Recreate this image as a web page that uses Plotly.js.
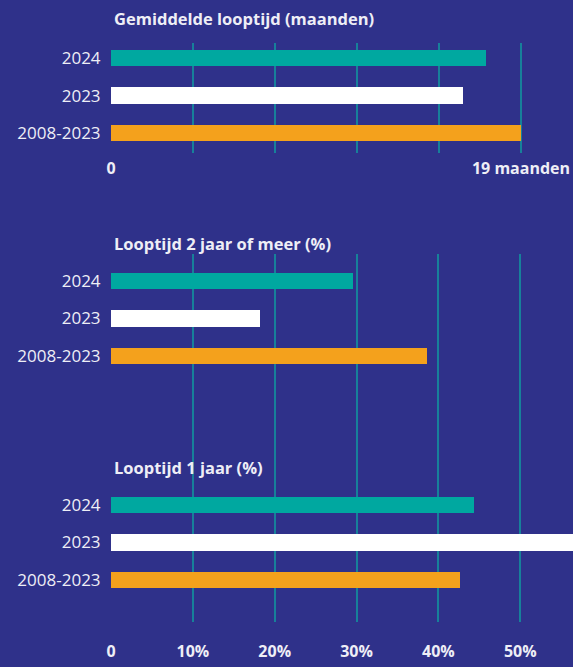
<!DOCTYPE html>
<html>
<head>
<meta charset="utf-8">
<script src="https://cdn.plot.ly/plotly-3.0.1.min.js"></script>
<style>
  html, body { margin: 0; padding: 0; background: #2f318a; }
  #chart { width: 573px; height: 667px; }
</style>
</head>
<body>
<div id="chart"></div>
<script>
// ---- Data ----
const categories = ['2024', '2023', '2008-2023'];
const avgDurationMonths = [17.4, 16.3, 19.0];
const durationTwoYearsPlus = [29.6, 18.2, 38.6];
const durationOneYear = [44.4, 58.0, 42.6];

const monthTickVals = [0, 3.8, 7.6, 11.4, 15.2, 19];
const monthTickText = ['0', '', '', '', '', '19 maanden'];
const pctTickVals = [0, 10, 20, 30, 40, 50];
const pctTickText = ['0', '10%', '20%', '30%', '40%', '50%'];

const panelTitles = ['Gemiddelde looptijd (maanden)', 'Looptijd 2 jaar of meer (%)', 'Looptijd 1 jaar (%)'];

// ---- Style ----
const BG = '#2f318a';
const GRID = '#17809a';
const TXT = '#eeeef6';
const barColors = ['#00a8a0', '#ffffff', '#f4a11c'];
const FONT = 'Open Sans, sans-serif';
const H = 667;

function bar(x, xa, ya) {
  return {
    type: 'bar', orientation: 'h', y: categories, x: x,
    xaxis: xa, yaxis: ya, width: 0.43,
    marker: { color: barColors, line: { width: 0 } },
    hoverinfo: 'skip', cliponaxis: true
  };
}

const data = [
  bar(avgDurationMonths, 'x', 'y'),
  bar(durationTwoYearsPlus, 'x2', 'y2'),
  bar(durationOneYear, 'x2', 'y3')
];

const yCommon = {
  type: 'category', categoryorder: 'array', categoryarray: categories,
  showgrid: false, zeroline: false, showline: false,
  ticks: 'outside', ticklen: 6, tickcolor: 'rgba(0,0,0,0)',
  tickfont: { family: FONT, size: 17, color: TXT }
};
const xCommon = {
  showgrid: true, gridcolor: GRID, gridwidth: 2, zeroline: false, showline: false,
  tickmode: 'array', ticks: 'outside', tickcolor: 'rgba(0,0,0,0)',
  tickfont: { family: FONT, size: 16, color: TXT, weight: 'bold' }
};

function py(px) { return 1 - px / H; }

const layout = {
  width: 573, height: 667,
  paper_bgcolor: BG, plot_bgcolor: BG,
  margin: { l: 111, r: 0, t: 0, b: 0 },
  showlegend: false, bargap: 0,
  xaxis: Object.assign({}, xCommon, {
    anchor: 'y', range: [0, 21.41],
    tickvals: monthTickVals, ticktext: monthTickText, ticklen: 1
  }),
  yaxis: Object.assign({}, yCommon, {
    domain: [py(153), py(43)], anchor: 'x', range: [2.53, -0.4]
  }),
  xaxis2: Object.assign({}, xCommon, {
    anchor: 'y3', range: [0, 56.44],
    tickvals: pctTickVals, ticktext: pctTickText, ticklen: 15
  }),
  yaxis2: Object.assign({}, yCommon, {
    domain: [py(438), py(254)], anchor: 'x2', range: [4.19, -0.72]
  }),
  yaxis3: Object.assign({}, yCommon, {
    domain: [py(622), py(438)], anchor: 'x2', range: [3.12, -1.787]
  }),
  annotations: [
    { text: panelTitles[0], y: py(18) },
    { text: panelTitles[1], y: py(243) },
    { text: panelTitles[2], y: py(467) }
  ].map(a => Object.assign({
    xref: 'paper', yref: 'paper', x: 0, xshift: 1, xanchor: 'left', yanchor: 'middle',
    showarrow: false,
    font: { family: FONT, size: 16.5, color: TXT, weight: 'bold' }
  }, a))
};

Plotly.newPlot('chart', data, layout, { staticPlot: true, displayModeBar: false });
</script>
</body>
</html>
